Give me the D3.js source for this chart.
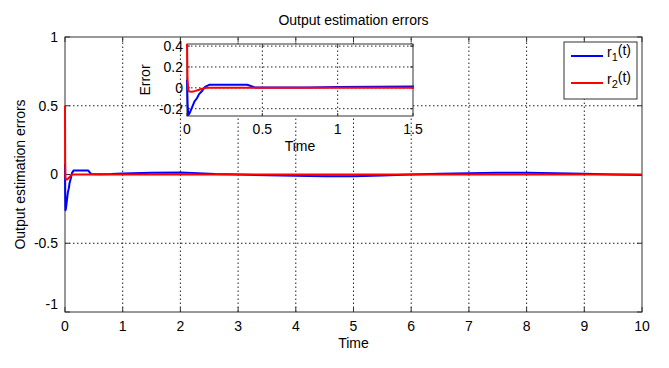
<!DOCTYPE html>
<html>
<head>
<meta charset="utf-8">
<script src="https://cdn.jsdelivr.net/npm/d3@7"></script>
<style>
    body { margin: 0; background: #fff; }
    svg { display: block; font-family: "Liberation Sans", Arial, sans-serif; }
    .grid line { stroke: #222; stroke-width: 1; stroke-dasharray: 1.5,2.5; }
    .frame { fill: none; stroke: #333; stroke-width: 1; }
    .tick-mark { stroke: #333; stroke-width: 1; }
    .lbl { font-size: 14px; fill: #000; }
</style>
</head>
<body>
<svg id="chart" width="669" height="368"></svg>
<script>

// r1(t): blue
const timeR1 = [0, 0.004, 0.008, 0.015, 0.03, 0.05, 0.066, 0.08, 0.1, 0.12, 0.15, 0.2, 0.3, 0.4, 0.45,
    0.6, 0.8, 1.0, 1.5, 2.0, 2.3, 2.6, 3.0, 3.5, 4.0, 4.5, 5.0, 5.5, 6.0, 6.5, 7.0, 7.5, 8.0, 8.5, 9.0, 9.5, 10];
const r1 = [0.08, -0.15, -0.26, -0.25, -0.2, -0.13, -0.1, -0.06, -0.03, 0.01, 0.03, 0.03, 0.03, 0.03, 0.004,
    0.002, 0.004, 0.008, 0.013, 0.014, 0.01, 0.004, 0.0, -0.005, -0.01, -0.012, -0.012, -0.008, 0.0, 0.006, 0.01, 0.013, 0.013, 0.01, 0.006, 0.0, -0.004];

// r2(t): red
const timeR2 = [0, 0.003, 0.008, 0.015, 0.03, 0.05, 0.08, 0.1, 0.13, 10];
const r2 = [0.5, 0.1, -0.02, -0.035, -0.037, -0.032, -0.018, -0.008, 0, 0];

const mainXTicks = [0, 1, 2, 3, 4, 5, 6, 7, 8, 9, 10];
const mainYTicks = [-1, -0.5, 0, 0.5, 1];
const insetXTicks = [0, 0.5, 1, 1.5];
const insetYTicks = [-0.2, 0, 0.2, 0.4];

const seriesNames = ["1", "2"];
const seriesColors = ["#0000ff", "#ff0000"];

const series = [
    timeR1.map((t, i) => ({ t: t, v: r1[i] })),
    timeR2.map((t, i) => ({ t: t, v: r2[i] }))
];

const svg = d3.select("#chart");

function drawAxes(g, x, y, xTicks, yTicks, opts) {
    const [x0, x1] = x.range();
    const [y0, y1] = y.range();   // y0 bottom, y1 top
    const clipId = "clip-" + opts.id;

    g.append("clipPath").attr("id", clipId)
        .append("rect")
        .attr("x", x0 - 1).attr("y", y1)
        .attr("width", x1 - x0 + 2).attr("height", y0 - y1);

    g.append("rect")
        .attr("x", x0).attr("y", y1)
        .attr("width", x1 - x0).attr("height", y0 - y1)
        .attr("fill", "#fff");

    // grid
    const grid = g.append("g").attr("class", "grid");
    grid.selectAll(".gx")
        .data(xTicks.filter(d => d !== x.domain()[0] && d !== x.domain()[1]))
        .join("line")
        .attr("x1", d => x(d)).attr("x2", d => x(d))
        .attr("y1", y0).attr("y2", y1);
    grid.selectAll(".gy")
        .data(yTicks.filter(d => y(d) > y1 + 1 && y(d) < y0 - 1))
        .join("line")
        .attr("x1", x0).attr("x2", x1)
        .attr("y1", d => y(d)).attr("y2", d => y(d));

    // ticks inward on all four sides
    const tl = opts.tickLen;
    const ticks = g.append("g");
    xTicks.forEach(d => {
        ticks.append("line").attr("class", "tick-mark")
            .attr("x1", x(d)).attr("x2", x(d)).attr("y1", y0).attr("y2", y0 - tl);
        ticks.append("line").attr("class", "tick-mark")
            .attr("x1", x(d)).attr("x2", x(d)).attr("y1", y1).attr("y2", y1 + tl);
    });
    yTicks.forEach(d => {
        if (y(d) < y1 || y(d) > y0) return;
        ticks.append("line").attr("class", "tick-mark")
            .attr("x1", x0).attr("x2", x0 + tl).attr("y1", y(d)).attr("y2", y(d));
        ticks.append("line").attr("class", "tick-mark")
            .attr("x1", x1).attr("x2", x1 - tl).attr("y1", y(d)).attr("y2", y(d));
    });

    g.append("rect").attr("class", "frame")
        .attr("x", x0).attr("y", y1)
        .attr("width", x1 - x0).attr("height", y0 - y1);

    // series, drawn over the box like MATLAB's bottom layer
    const line = d3.line().x(d => x(d.t)).y(d => y(d.v));
    g.append("g")
        .attr("clip-path", `url(#${clipId})`)
        .selectAll("path")
        .data(series)
        .join("path")
        .attr("fill", "none")
        .attr("stroke", (d, i) => seriesColors[i])
        .attr("stroke-width", 2)
        .attr("stroke-linejoin", "round")
        .attr("d", line);

    // tick labels
    g.append("g").selectAll("text")
        .data(xTicks)
        .join("text")
        .attr("class", "lbl")
        .attr("text-anchor", "middle")
        .attr("x", d => x(d))
        .attr("y", y0 + opts.xLabelGap)
        .text(d => String(d));

    g.append("g").selectAll("text")
        .data(yTicks)
        .join("text")
        .attr("class", "lbl")
        .attr("text-anchor", "end")
        .attr("x", x0 - opts.yLabelGap)
        .attr("y", d => y(d))
        .attr("dy", d => (opts.raiseBottom && d === y.domain()[0]) ? "-0.2em" : "0.35em")
        .text(d => String(d));
}

// main axes
const x = d3.scaleLinear().domain([0, 10]).range([65, 642]);
const y = d3.scaleLinear().domain([-1, 1]).range([312, 37]);
const main = svg.append("g");
drawAxes(main, x, y, mainXTicks, mainYTicks, { id: "main", tickLen: 5, xLabelGap: 19, yLabelGap: 7, raiseBottom: true });

main.append("text").attr("class", "lbl")
    .attr("x", (x.range()[0] + x.range()[1]) / 2).attr("y", 25)
    .attr("text-anchor", "middle")
    .text("Output estimation errors");

main.append("text").attr("class", "lbl")
    .attr("x", (x.range()[0] + x.range()[1]) / 2).attr("y", 348)
    .attr("text-anchor", "middle")
    .text("Time");

main.append("text").attr("class", "lbl")
    .attr("transform", `translate(25, ${(y.range()[0] + y.range()[1]) / 2}) rotate(-90)`)
    .attr("text-anchor", "middle")
    .text("Output estimation errors");

// inset axes
const xi = d3.scaleLinear().domain([0, 1.5]).range([187, 413]);
const yi = d3.scaleLinear().domain([-0.27, 0.42]).range([116, 44]);
const inset = svg.append("g");
drawAxes(inset, xi, yi, insetXTicks, insetYTicks, { id: "inset", tickLen: 3, xLabelGap: 18, yLabelGap: 4, raiseBottom: false });

inset.append("text").attr("class", "lbl")
    .attr("x", (xi.range()[0] + xi.range()[1]) / 2).attr("y", 151)
    .attr("text-anchor", "middle")
    .text("Time");

inset.append("text").attr("class", "lbl")
    .attr("transform", `translate(150, ${(yi.range()[0] + yi.range()[1]) / 2}) rotate(-90)`)
    .attr("text-anchor", "middle")
    .text("Error");

// legend
const legend = svg.append("g").attr("transform", "translate(564, 42)");
legend.append("rect")
    .attr("width", 73).attr("height", 57)
    .attr("fill", "#fff").attr("stroke", "#333");

const entry = legend.selectAll(".entry")
    .data(seriesNames)
    .join("g")
    .attr("transform", (d, i) => `translate(0, ${14 + i * 27})`);

entry.append("line")
    .attr("x1", 7).attr("x2", 39)
    .attr("stroke", (d, i) => seriesColors[i])
    .attr("stroke-width", 2);

const lt = entry.append("text").attr("class", "lbl")
    .attr("x", 43).attr("y", 0).attr("dy", "0.1em");
lt.append("tspan").text("r");
lt.append("tspan").attr("dy", "0.35em").attr("font-size", "11px").text(d => d);
lt.append("tspan").attr("dy", "-0.45em").text("(t)");

</script>
</body>
</html>
